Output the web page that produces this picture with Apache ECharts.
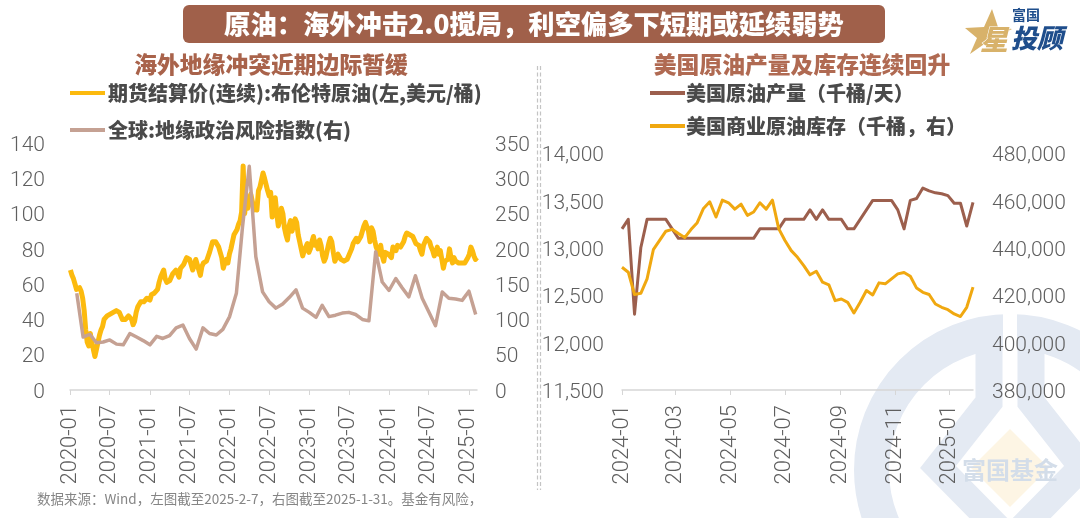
<!DOCTYPE html>
<html><head><meta charset="utf-8">
<style>html,body{margin:0;padding:0;background:#fff}#c{width:1080px;height:518px}</style>
<script src="https://cdn.jsdelivr.net/npm/echarts@6/dist/echarts.min.js"></script>
</head><body><div id="c"></div>
<script>
var brentStart='2020-01-03';
var brent=[68,65,63,60,57,57,58,56,52,45,34,27,25,32,27,26,19,23,27,31,34,36,40,41,42,43,43,43,44,44,45,45,44,43,40,41,40,40,42,42,40,37,39,44,47,48,50,51,50,51,52,52,
51,54,55,55,54,57,61,64,66,68,63,61,62,62,64,66,66,68,68,64,69,69,71,73,75,75,74,75,68,71,74,71,70,65,70,72,72,73,74,78,81,84,85,84,83,81,80,75,69,72,74,72,77,80,84,88,89,91,94,96,101,127,
100,110,103,108,111,107,102,105,102,113,115,119,123,120,119,113,110,112,98,104,109,100,93,97,103,100,92,88,85,93,96,90,94,97,95,88,84,80,76,79,81,83,78,80,84,87,82,84,80,85,82,76,73,75,79,83,86,84,78,73,72,77,77,74,75,73,72,74,76,76,80,83,83,86,84,83,87,90,93,95,96,90,84,92,90,85,81,79,77,82,76,73,78,79,77,76,75,81,82,79,82,82,81,82,84,87,89,90,88,87,87,85,83,82,82,79,77,82,83,86,85,84,81,79,76,78,81,77,79,74,69,73,72,74,80,75,72,75,73,74,72,73,72,73,72,73,75,77,81,79,76,74,75];
var gprStart='2020-02-01';
var gpr=[137,75,79,67,68,71,65,64,80,75,70,64,76,73,77,88,92,73,58,88,80,78,86,104,137,231,317,189,139,125,116,122,131,142,116,110,103,120,104,106,109,110,107,100,98,196,153,141,158,145,132,162,130,111,91,139,130,129,127,140,107];
var usStart='2024-01-01';
var output=[13200,13300,12300,13000,13300,13300,13300,13300,13200,13100,13100,13100,13100,13100,13100,13100,13100,13100,13100,13100,13100,13100,13200,13200,13200,13200,13300,13300,13300,13300,13400,13300,13400,13300,13300,13300,13200,13200,13300,13400,13500,13500,13500,13500,13400,13200,13500,13520,13630,13600,13580,13570,13550,13470,13470,13230,13480];
var stock=[431800,429700,420300,420800,426900,439200,443100,447000,447800,446000,444300,447700,450600,456600,459400,453000,460100,459000,456300,458400,453700,455100,459000,456300,460100,448100,443100,438800,436000,432500,428600,430100,425500,424400,417700,418400,417000,412500,417000,422000,420100,425200,424800,426900,429000,429600,428000,423000,421200,420300,416300,414900,413900,412100,411000,414900,423400];
var leftTicks=['2020-01','2020-07','2021-01','2021-07','2022-01','2022-07','2023-01','2023-07','2024-01','2024-07','2025-01'];
var rightTicks=['2024-01','2024-03','2024-05','2024-07','2024-09','2024-11','2025-01'];
var names=['期货结算价(连续):布伦特原油(左,美元/桶)','全球:地缘政治风险指数(右)','美国原油产量（千桶/天）','美国商业原油库存（千桶，右）'];
var titleText='原油：海外冲击2.0搅局，利空偏多下短期或延续弱势';
var subLeft='海外地缘冲突近期边际暂缓';
var subRight='美国原油产量及库存连续回升';
var footer='数据来源：Wind，左图截至2025-2-7，右图截至2025-1-31。基金有风险，';

var DAY=86400000;
function t(s){return Date.parse(s+'T00:00:00Z');}
function weekly(start,vals){return vals.map(function(v,i){return [t(start)+i*7*DAY,v];});}
function monthly(start,vals){var y=+start.slice(0,4),m=+start.slice(5,7)-1;return vals.map(function(v,i){return [Date.UTC(y,m+i,1),v];});}
function ym(v){var d=new Date(v),m=d.getUTCMonth()+1;return d.getUTCFullYear()+'-'+(m<10?'0':'')+m;}
var CJK='"Noto Sans CJK SC","Noto Sans",sans-serif', NUM='Roboto,"Liberation Sans",Arial,sans-serif';
var numC='#5f5f5f';
function xAxis(idx,ticks,min,max){return {type:'value',gridIndex:idx,min:t(min),max:t(max),scale:true,
  splitLine:{show:false},
  axisLine:{lineStyle:{color:'#d6d6d6',width:1.5}},
  axisTick:{show:true,length:5,lineStyle:{color:'#d6d6d6'},customValues:ticks.map(function(s){return t(s+'-01');})},
  axisLabel:{rotate:90,margin:15,fontFamily:NUM,fontWeight:300,fontSize:22,color:numC,hideOverlap:false,showMinLabel:true,showMaxLabel:true,
    customValues:ticks.map(function(s){return t(s+'-01');}),formatter:function(v){return ym(v);}}};}
function yAxis(idx,pos,min,max,iv,margin,pad,fmt){return {type:'value',gridIndex:idx,position:pos,min:min,max:max,interval:iv,
  splitLine:{show:false},axisLine:{show:false},axisTick:{show:false},
  axisLabel:{margin:margin,fontFamily:NUM,fontWeight:300,fontSize:21,color:numC,
    rich:{a:{fontFamily:NUM,fontWeight:300,fontSize:21,color:numC,padding:[pad,0,0,0]}},
    formatter:function(v){return '{a|'+(fmt?fmt(v):v)+'}';},align:pos==='left'?'right':'left'}};}
function thousands(v){return String(v).replace(/\B(?=(\d{3})+$)/g,',');}
function line(name,xi,yi,data,color,w){return {name:name,type:'line',xAxisIndex:xi,yAxisIndex:yi,data:data,showSymbol:false,symbol:'none',
  smooth:false,z:5,lineStyle:{color:color,width:w,join:'round'},itemStyle:{color:color}};}
function legend(left,top,gap,pad,data){return {left:left,top:top,padding:0,orient:'vertical',data:data,itemWidth:35,itemHeight:4,itemGap:gap,icon:'rect',
  textStyle:{fontFamily:CJK,fontSize:20,fontWeight:900,color:'#4a4a4a',padding:[0,0,0,pad]}};}
var wm='#e4eaf3';
var graphics=[
 {type:'circle',silent:true,z:-20,shape:{cx:1010,cy:470,r:138.5},style:{stroke:wm,lineWidth:35,fill:null}},
 {type:'rect',silent:true,z:-19,shape:{x:1003,y:300,width:14,height:110},style:{fill:'#fff'}},
 {type:'polyline',silent:true,z:-18,shape:{points:[[989,345],[989,402],[938,467],[1005,535]]},style:{stroke:wm,lineWidth:27,fill:null}},
 {type:'polyline',silent:true,z:-18,shape:{points:[[1031,345],[1031,402],[1082,467],[1015,535]]},style:{stroke:wm,lineWidth:27,fill:null}},
 {type:'polygon',silent:true,z:-17,shape:{points:[[1010,429],[1049,468],[1010,507],[971,468]]},style:{fill:'#fdf5e4'}},
 {type:'text',silent:true,z:-16,style:{x:1010,y:470,text:'富国基金',align:'center',verticalAlign:'middle',font:'bold 24px '+CJK,fill:'#d3dde9'}},
 {type:'rect',silent:true,z:1,shape:{x:183,y:5,width:702,height:38,r:6},style:{fill:'#a0604a'}},
 {type:'text',silent:true,z:2,style:{x:534,y:24,text:titleText,align:'center',verticalAlign:'middle',font:'900 26.3px '+CJK,fill:'#fff'}},
 {type:'text',silent:true,z:2,style:{x:271,y:64,text:subLeft,align:'center',verticalAlign:'middle',font:'900 22.8px '+CJK,fill:'#a9634b'}},
 {type:'text',silent:true,z:2,style:{x:802,y:64,text:subRight,align:'center',verticalAlign:'middle',font:'900 22.8px '+CJK,fill:'#b06a52'}},
 {type:'line',silent:true,z:1,shape:{x1:537.5,y1:66,x2:537.5,y2:490},style:{stroke:'#c4c4c4',lineWidth:1.2,lineDash:[4,2.5]}},
 {type:'line',silent:true,z:1,shape:{x1:540.5,y1:66,x2:540.5,y2:490},style:{stroke:'#c4c4c4',lineWidth:1.2,lineDash:[4,2.5]}},
 {type:'polygon',silent:true,z:1,shape:{points:[[992,9],[998,27],[1012,29],[990,40],[970,54],[977,38],[965,28],[984,27]]},style:{fill:'#d8b26a'}},
 {type:'text',silent:true,z:2,style:{x:994,y:39,text:'星',align:'center',verticalAlign:'middle',font:'italic 900 28px '+CJK,fill:'#d8b26a',stroke:'#fff',lineWidth:1}},
 {type:'text',silent:true,z:2,style:{x:1037,y:38,text:'投顾',align:'center',verticalAlign:'middle',font:'italic 900 26px '+CJK,fill:'#1f4e8c'}},
 {type:'text',silent:true,z:2,style:{x:1026,y:15,text:'富国',align:'center',verticalAlign:'middle',font:'bold 14px '+CJK,fill:'#1f4e8c'}},
 {type:'text',silent:true,z:2,style:{x:37,y:499,text:footer,align:'left',verticalAlign:'middle',font:'13.5px '+CJK,fill:'#858585'}}
];
var chart=echarts.init(document.getElementById('c'),null,{renderer:'canvas'});
chart.setOption({
 animation:false,backgroundColor:'#fff',
 graphic:{elements:graphics},
 legend:[legend(70,83,17,-2,[names[0],names[1]]),legend(650,83,13,-4,[names[2],names[3]])],
 grid:[{left:70,top:143,width:407,height:247},{left:622,top:153,width:351,height:237}],
 xAxis:[xAxis(0,leftTicks,'2020-01-01','2025-02-07'),xAxis(1,rightTicks,'2024-01-01','2025-01-27')],
 yAxis:[yAxis(0,'left',0,140,20,25,5),yAxis(0,'right',0,350,50,18,5),
        yAxis(1,'left',11500,14000,500,18,6,thousands),yAxis(1,'right',380000,480000,20000,19,6,thousands)],
 series:[line(names[0],0,0,weekly(brentStart,brent),'#fcba0e',5),
         line(names[1],0,1,monthly(gprStart,gpr),'#c5a193',3.5),
         line(names[2],1,2,weekly(usStart,output),'#9c5f4d',3),
         line(names[3],1,3,weekly(usStart,stock),'#f0a810',3)]
});
</script></body></html>
